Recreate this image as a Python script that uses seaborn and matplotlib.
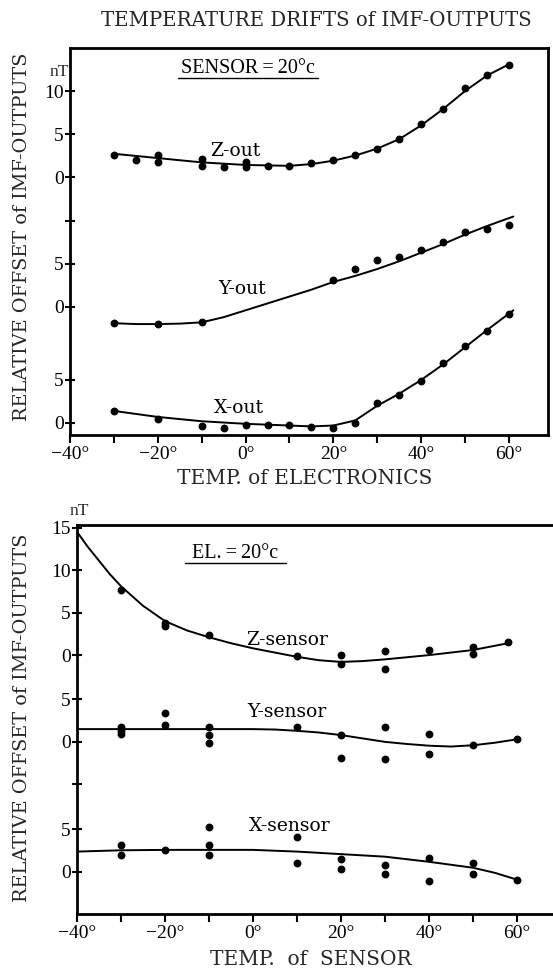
import numpy as np
import pandas as pd
import matplotlib
matplotlib.use("Agg")
import matplotlib.pyplot as plt
import seaborn as sns

sns.set_theme(style="white")
plt.rcParams['font.family'] = ['Liberation Serif', 'DejaVu Serif']
plt.rcParams['axes.unicode_minus'] = True

# ---------------- data: top panel (temperature of electronics) ----------------
# measured points (nT, relative to each series' own zero)
zout_t = [-30, -25, -20, -20, -10, -10, -5, 0, 0, 5, 10, 15, 20, 25, 30, 35, 40, 45, 50, 55, 60]
zout_v = [2.5, 2.0, 2.5, 1.7, 2.1, 1.3, 1.2, 1.8, 1.2, 1.3, 1.3, 1.6, 2.0, 2.6, 3.3, 4.4, 6.2, 7.9, 10.3, 11.9, 13.0]
zout_curve_t = [-30, -20, -10, 0, 10, 15, 20, 25, 30, 35, 40, 45, 50, 55, 60]
zout_curve_v = [2.7, 2.2, 1.7, 1.4, 1.3, 1.5, 1.9, 2.5, 3.3, 4.4, 6.0, 7.9, 10.0, 11.8, 13.1]

yout_t = [-30, -20, -10, 20, 25, 30, 35, 40, 45, 50, 55, 60]
yout_v = [-1.9, -2.0, -1.8, 3.1, 4.4, 5.5, 5.8, 6.6, 7.5, 8.7, 9.0, 9.5]
yout_curve_t = [-30, -25, -20, -15, -10, -5, 0, 5, 10, 15, 20, 25, 30, 35, 40, 45, 50, 55, 61]
yout_curve_v = [-1.9, -2.0, -2.0, -1.95, -1.8, -1.2, -0.4, 0.4, 1.2, 2.0, 2.9, 3.6, 4.4, 5.3, 6.3, 7.3, 8.4, 9.4, 10.5]

xout_t = [-30, -20, -10, -5, 0, 5, 10, 15, 20, 25, 30, 35, 40, 45, 50, 55, 60]
xout_v = [1.4, 0.5, -0.3, -0.6, -0.2, -0.2, -0.2, -0.5, -0.6, 0.0, 2.3, 3.3, 4.9, 7.0, 8.9, 10.7, 12.7]
xout_curve_t = [-30, -20, -10, 0, 10, 15, 20, 25, 30, 35, 40, 45, 50, 55, 61]
xout_curve_v = [1.4, 0.7, 0.2, -0.1, -0.3, -0.4, -0.3, 0.3, 2.0, 3.4, 5.0, 6.8, 8.8, 10.8, 13.1]

# ---------------- data: bottom panel (temperature of sensor) ----------------
zsen_t = [-30, -20, -20, -10, 10, 20, 20, 30, 30, 40, 50, 50, 58]
zsen_v = [7.7, 3.4, 3.8, 2.4, -0.1, 0.0, -1.1, 0.5, -1.6, 0.6, 1.0, 0.1, 1.5]
zsen_curve_t = [-40, -37.5, -35, -32.5, -30, -25, -20, -15, -10, -5, 0, 5, 10, 15, 20, 25, 30, 40, 50, 58]
zsen_curve_v = [14.5, 12.7, 11.1, 9.5, 8.1, 5.8, 4.0, 2.9, 2.1, 1.4, 0.8, 0.3, -0.2, -0.6, -0.8, -0.7, -0.5, 0.0, 0.6, 1.4]

ysen_t = [-30, -30, -30, -20, -20, -10, -10, -10, 10, 20, 20, 30, 30, 40, 40, 50, 60]
ysen_v = [1.7, 1.3, 0.9, 3.4, 2.0, 1.7, 0.8, -0.1, 1.8, 0.8, -1.9, 1.7, -2.0, 0.9, -1.4, -0.4, 0.3]
ysen_curve_t = [-40, -20, 0, 5, 10, 15, 20, 25, 30, 35, 40, 45, 50, 55, 60]
ysen_curve_v = [1.5, 1.5, 1.5, 1.45, 1.3, 1.1, 0.8, 0.4, 0.0, -0.25, -0.45, -0.55, -0.4, -0.1, 0.3]

xsen_t = [-30, -30, -20, -10, -10, -10, 10, 10, 20, 20, 30, 30, 40, 40, 50, 50, 60]
xsen_v = [3.2, 2.0, 2.6, 5.3, 3.2, 2.0, 4.1, 1.0, 1.5, 0.3, 0.8, -0.2, -1.1, 1.6, 1.0, -0.2, -0.9]
xsen_curve_t = [-40, -30, -20, -10, 0, 10, 20, 30, 40, 50, 55, 60]
xsen_curve_v = [2.4, 2.55, 2.6, 2.6, 2.6, 2.4, 2.1, 1.8, 1.2, 0.5, -0.1, -0.9]

# vertical offsets of each series' zero on the shared axis
top_offsets = {"Z-out": 28.6, "Y-out": 13.5, "X-out": 0.0}
bot_offsets = {"Z-sensor": 25.5, "Y-sensor": 15.3, "X-sensor": 0.0}

top_series = {"Z-out": (zout_t, zout_v, zout_curve_t, zout_curve_v),
              "Y-out": (yout_t, yout_v, yout_curve_t, yout_curve_v),
              "X-out": (xout_t, xout_v, xout_curve_t, xout_curve_v)}
bot_series = {"Z-sensor": (zsen_t, zsen_v, zsen_curve_t, zsen_curve_v),
              "Y-sensor": (ysen_t, ysen_v, ysen_curve_t, ysen_curve_v),
              "X-sensor": (xsen_t, xsen_v, xsen_curve_t, xsen_curve_v)}

top_yticks = [0, 5, 0, 5, None, 0, 5, 10]   # labels by series
bot_yticks = [0, 5, None, 0, 5, 0, 5, 10, 15]
x_tick_vals = list(range(-40, 61, 10))

W, H = 553, 972
fig = plt.figure(figsize=(W / 100, H / 100), dpi=100)
fig.patch.set_facecolor("white")

ax1 = fig.add_axes([70 / W, 1 - 435 / H, (548 - 70) / W, (435 - 48) / H])
ax2 = fig.add_axes([77 / W, 1 - 914 / H, (W - 77) / W + 0.01, (914 - 525) / H])

FS_TICK = 14
SERIF = ['Liberation Serif', 'DejaVu Serif']
WIDE = ['DejaVu Serif', 'Liberation Serif']


def draw(ax, series, offsets):
    for name, (pt, pv, ct, cv) in series.items():
        off = offsets[name]
        dfc = pd.DataFrame({"t": ct, "v": np.array(cv) + off})
        sns.lineplot(data=dfc, x="t", y="v", ax=ax, color="black", lw=1.4,
                     sort=False, estimator=None)
        dfp = pd.DataFrame({"t": pt, "v": np.array(pv) + off})
        sns.scatterplot(data=dfp, x="t", y="v", ax=ax, color="black", s=32,
                        edgecolor="black", linewidth=0, zorder=5)


def style(ax, ytick_pos, ytick_lab, xlim, ylim, show_right):
    ax.set_xlim(*xlim)
    ax.set_ylim(*ylim)
    ax.set_facecolor("white")
    ax.set_xticks(x_tick_vals)
    ax.set_xticklabels([("\u2212%d°" % -v if v < 0 else "%d°" % v) if v % 20 == 0 else ""
                        for v in x_tick_vals])
    ax.set_yticks(ytick_pos)
    ax.set_yticklabels(ytick_lab)
    ax.tick_params(axis="x", direction="out", length=6, width=1.5, labelsize=FS_TICK,
                   pad=2, color="black", labelcolor="black", bottom=True)
    ax.tick_params(axis="y", direction="inout", length=7, width=1.5, labelsize=FS_TICK,
                   pad=1, color="black", labelcolor="black", left=True)
    for sp in ["left", "bottom", "top", "right"]:
        ax.spines[sp].set_color("black")
        ax.spines[sp].set_linewidth(2.0)
    ax.spines["right"].set_visible(show_right)
    ax.set_xlabel("")
    ax.set_ylabel("")
    for lab in ax.get_xticklabels() + ax.get_yticklabels():
        lab.set_family(SERIF)


draw(ax1, top_series, top_offsets)
draw(ax2, bot_series, bot_offsets)

tpos = [0, 5, 13.5, 18.5, 23.5, 28.6, 33.6, 38.6]
tlab = ["" if v is None else str(v) for v in top_yticks]
style(ax1, tpos, tlab, (-40, 68.9), (-1.4, 43.6), True)

bpos = [0, 5, 10.3, 15.3, 20.3, 25.5, 30.5, 35.5, 40.5]
blab = ["" if v is None else str(v) for v in bot_yticks]
style(ax2, bpos, blab, (-40, 68.2 + 0.01 * W / 4.4), (-4.94, 40.8), False)

# series labels
lab_kw = dict(fontsize=13.5, family=WIDE, ha="center", va="center", color="black")
ax1.text(-2.3, 31.6, "Z-out", **lab_kw)
ax1.text(-0.7, 15.6, "Y-out", **lab_kw)
ax1.text(-1.5, 1.7, "X-out", **lab_kw)
ax2.text(7.8, 27.3, "Z-sensor", **lab_kw)
ax2.text(7.8, 18.8, "Y-sensor", **lab_kw)
ax2.text(8.4, 5.4, "X-sensor", **lab_kw)

# condition labels with underline
ax1.text(0.5, 40.7, "SENSOR\u2009=\u200920°c", fontsize=14.5, family=SERIF, ha="center",
         va="baseline", color="black")
ax1.plot([-15.5, 16.5], [40.1, 40.1], color="black", lw=1.0)
ax2.text(-4, 36.9, "EL.\u2009=\u200920°c", fontsize=14.5, family=SERIF, ha="center",
         va="baseline", color="black")
ax2.plot([-15.5, 7.5], [36.3, 36.3], color="black", lw=1.0)

# unit labels
fig.text(50 / W, 1 - 72 / H, "nT", fontsize=12.5, family=SERIF, ha="left", va="center")
fig.text(70 / W, 1 - 511 / H, "nT", fontsize=12.5, family=SERIF, ha="left", va="center")

# titles and axis labels
fig.text(316 / W, 1 - 20 / H, "TEMPERATURE DRIFTS of IMF-OUTPUTS", fontsize=14.2,
         family=WIDE, ha="center", va="center")
fig.text(305 / W, 1 - 478 / H, "TEMP. of ELECTRONICS", fontsize=14.5,
         family=WIDE, ha="center", va="center")
fig.text(311 / W, 1 - 959 / H, "TEMP.  of  SENSOR", fontsize=14.5,
         family=WIDE, ha="center", va="center")
fig.text(22 / W, 1 - 237 / H, "RELATIVE OFFSET of IMF-OUTPUTS", fontsize=13.9,
         family=WIDE, ha="center", va="center", rotation=90)
fig.text(22 / W, 1 - 718 / H, "RELATIVE OFFSET of IMF-OUTPUTS", fontsize=13.9,
         family=WIDE, ha="center", va="center", rotation=90)

fig.savefig("out.png", dpi=100, facecolor="white")
